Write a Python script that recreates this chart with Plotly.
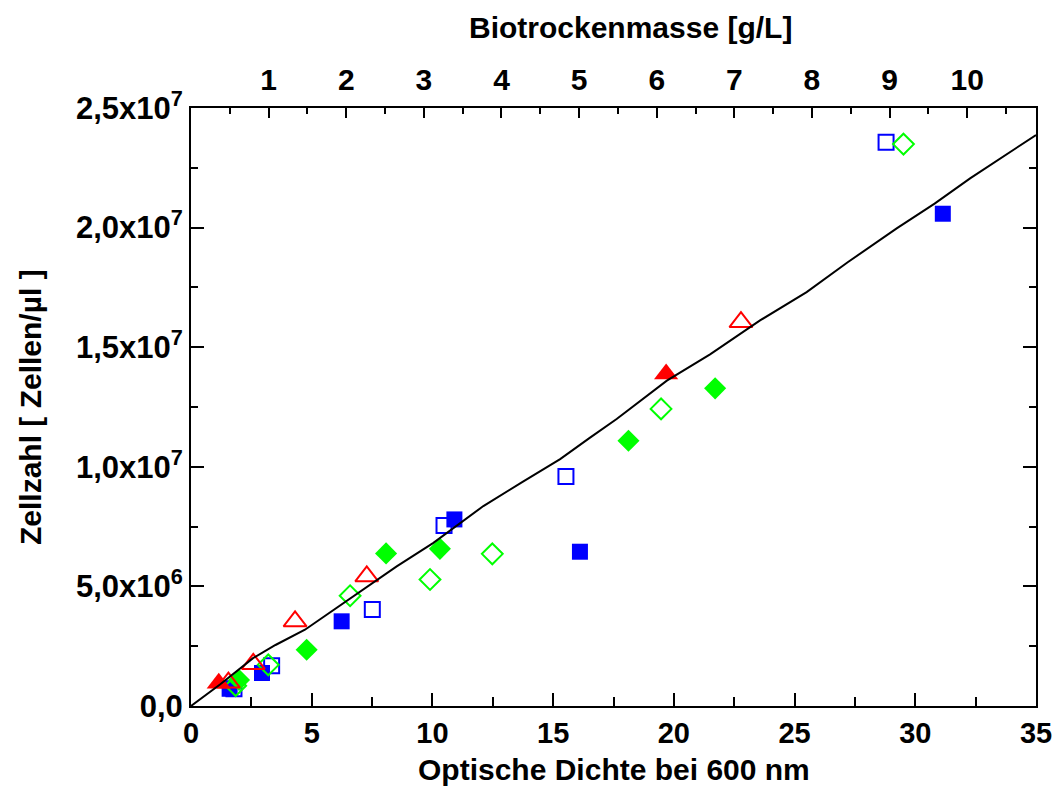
import plotly.graph_objects as go

# ---- data (OD600, cells per µl) ----
blue_filled_od = [1.6, 2.94, 6.24, 10.91, 16.11, 31.14]
blue_filled_y = [0.72e6, 1.38e6, 3.54e6, 7.80e6, 6.45e6, 20.58e6]

blue_open_od = [1.78, 3.34, 7.51, 10.48, 15.53, 28.79]
blue_open_y = [0.72e6, 1.68e6, 4.03e6, 7.55e6, 9.59e6, 23.57e6]

green_filled_od = [1.99, 4.79, 8.08, 10.31, 18.12, 21.71]
green_filled_y = [1.09e6, 2.35e6, 6.38e6, 6.57e6, 11.09e6, 13.28e6]

green_open_od = [1.85, 3.2, 6.59, 9.90, 12.48, 19.47, 29.51]
green_open_y = [0.85e6, 1.72e6, 4.61e6, 5.29e6, 6.36e6, 12.42e6, 23.49e6]

red_filled_od = [1.15, 19.68]
red_filled_y = [0.95e6, 13.88e6]

red_open_od = [1.55, 2.58, 4.31, 7.28, 22.78]
red_open_y = [0.98e6, 1.76e6, 3.54e6, 5.42e6, 16.05e6]

line_od = [0, 1.2, 2.57, 3.5, 4.72, 5.6, 6.59, 7.6, 8.52, 10.04, 12.11, 13.7,
           15.29, 16.5, 17.63, 19.71, 21.5, 23.57, 25.5, 27.2, 29.23, 30.8, 32.27, 35.0]
line_y = [0, 0.9e6, 2.0e6, 2.55e6, 3.19e6, 3.8e6, 4.49e6, 5.2e6, 5.84e6, 6.82e6, 8.36e6, 9.35e6,
          10.32e6, 11.2e6, 12.0e6, 13.6e6, 14.7e6, 16.12e6, 17.3e6, 18.55e6, 19.97e6, 21.0e6, 22.06e6, 23.87e6]

od_per_btm = 3.215  # OD600 per g/L dry biomass (top axis scale)

y_tickvals = [0, 5e6, 1e7, 1.5e7, 2e7, 2.5e7]
y_ticktext = ["0,0", "5,0x10<sup>6</sup>", "1,0x10<sup>7</sup>", "1,5x10<sup>7</sup>",
              "2,0x10<sup>7</sup>", "2,5x10<sup>7</sup>"]

FONT = "Liberation Sans, Arial, sans-serif"
BLUE, GREEN, RED = "#0000FF", "#00FF00", "#FF0000"

fig = go.Figure()

def add(x, y, symbol, color, size, filled):
    fig.add_trace(go.Scatter(
        x=x, y=y, mode="markers", showlegend=False, hoverinfo="skip",
        marker=dict(symbol=symbol, size=size, color=color,
                    line=dict(color=color, width=0 if filled else 2))))

add(blue_open_od, blue_open_y, "square-open", BLUE, 15, False)
add(blue_filled_od, blue_filled_y, "square", BLUE, 16, True)
add(green_open_od, green_open_y, "diamond-open", GREEN, 16, False)
add(green_filled_od, green_filled_y, "diamond", GREEN, 17, True)
add(red_open_od, red_open_y, "triangle-up-open", RED, 20, False)
add(red_filled_od, red_filled_y, "triangle-up", RED, 21, True)

fig.add_trace(go.Scatter(x=line_od, y=line_y, mode="lines", showlegend=False,
                         hoverinfo="skip", line=dict(color="black", width=2)))

# invisible trace binding the top (dry biomass) axis
fig.add_trace(go.Scatter(x=[v / od_per_btm for v in line_od], y=line_y, xaxis="x2",
                         mode="markers", marker=dict(opacity=0), showlegend=False,
                         hoverinfo="skip"))

ytickfont = dict(family=FONT, size=31, color="black", weight="bold")
xtickfont = dict(family=FONT, size=29, color="black", weight="bold")

fig.update_layout(
    width=1057, height=810,
    margin=dict(l=191, r=21, t=108, b=104),
    plot_bgcolor="white", paper_bgcolor="white",
    xaxis=dict(range=[0, 35], tickvals=[0, 5, 10, 15, 20, 25, 30, 35], automargin=False,
               ticks="inside", ticklen=13, tickwidth=2, tickcolor="black",
               minor=dict(dtick=2.5, tick0=0, ticks="inside", ticklen=9, tickwidth=2, tickcolor="black"),
               showline=True, linewidth=2, linecolor="black", mirror=True,
               showgrid=False, zeroline=False, tickfont=xtickfont),
    xaxis2=dict(range=[0, 35 / od_per_btm], overlaying="x", side="top", anchor="y",
                tickvals=list(range(1, 11)), automargin=False, ticklabelstandoff=4,
                ticks="inside", ticklen=10, tickwidth=2, tickcolor="black",
                minor=dict(dtick=0.5, tick0=0, ticks="inside", ticklen=6, tickwidth=2, tickcolor="black"),
                showline=True, linewidth=2, linecolor="black", showgrid=False, zeroline=False,
                tickfont=dict(family="Liberation Sans Narrow, Liberation Sans, Arial", size=30,
                              color="black", weight="bold")),
    yaxis=dict(range=[0, 2.5e7], tickvals=y_tickvals, ticktext=y_ticktext, automargin=False,
               ticks="inside", ticklen=13, tickwidth=2, tickcolor="black",
               minor=dict(dtick=2.5e6, tick0=0, ticks="inside", ticklen=7, tickwidth=2, tickcolor="black"),
               showline=True, linewidth=2, linecolor="black", mirror="ticks",
               showgrid=False, zeroline=False, tickfont=ytickfont),
    annotations=[
        dict(text="Optische Dichte bei 600 nm", xref="paper", yref="paper",
             x=0.5, y=0, yshift=-63, xanchor="center", yanchor="middle", showarrow=False,
             font=dict(family=FONT, size=30, color="black", weight="bold")),
        dict(text="Zellzahl [ Zellen/µl ]", xref="paper", yref="paper",
             x=0, xshift=-161, y=0.5, textangle=-90, xanchor="center", yanchor="middle",
             showarrow=False, font=dict(family=FONT, size=30, color="black", weight="bold")),
        dict(text="Biotrockenmasse [g/L]", xref="paper", yref="paper",
             x=0.5207, y=1, yshift=81, xanchor="center", yanchor="middle", showarrow=False,
             font=dict(family=FONT, size=30, color="black", weight="bold")),
    ],
)

fig.write_html("out.html")
